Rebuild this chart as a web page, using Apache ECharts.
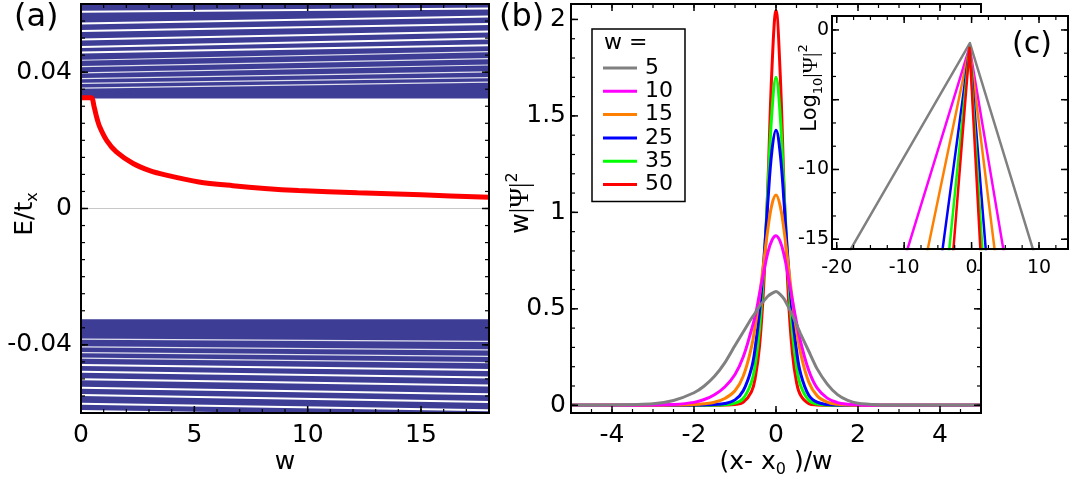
<!DOCTYPE html>
<html>
<head>
<meta charset="utf-8">
<title>edge state</title>
<script src="https://cdn.jsdelivr.net/npm/echarts@6.0.0/dist/echarts.min.js"></script>
<style>
  html, body { margin: 0; padding: 0; background: #fff; }
  #chart { width: 1071px; height: 478px; }
</style>
</head>
<body>
<div id="chart"></div>
<script>
// ---------- panel (a): E/t_x against w ----------
var edgeW = [0, 0.45, 0.58, 0.69, 0.83, 1.13, 1.56, 2.3, 3.0, 3.76, 5.2, 6.7, 8.1, 9.6, 12.2, 15, 18];
var edgeE = [0.0325, 0.0325, 0.0298, 0.0268, 0.0239, 0.0200, 0.0166, 0.0132, 0.0112, 0.0098, 0.0078, 0.0067, 0.0059, 0.0053, 0.0046, 0.0040, 0.0033];
var bandTop = [0.0323, 0.06];
var bandBottom = [-0.06, -0.0325];
// white gaps between the bulk levels, value at w=0 and at w=18
var gapUpLeft = [0.0577, 0.0543, 0.0521, 0.0496, 0.0474, 0.0458, 0.0435, 0.0416, 0.0398, 0.0381, 0.0367, 0.0353];
var gapUpRight = [0.0587, 0.0563, 0.0541, 0.0519, 0.0499, 0.0479, 0.0460, 0.0440, 0.0421, 0.0401, 0.0384, 0.0371];
var gapLowLeft = [-0.0383, -0.0406, -0.0423, -0.0439, -0.0459, -0.0479, -0.0501, -0.0526, -0.0547, -0.0573, -0.0594];
var gapLowRight = [-0.0390, -0.0415, -0.0434, -0.0452, -0.0474, -0.0496, -0.0519, -0.0545, -0.0568, -0.0592, -0.0612];
var aXRange = [0, 18], aYRange = [-0.06, 0.06];
var aXLabels = [0, 5, 10, 15];
var aYLabels = [-0.04, 0, 0.04];

// ---------- panel (b): w|Psi|^2 against (x-x0)/w ----------
var widths = ['5', '10', '15', '25', '35', '50'];
var uGrid = [-5, -4, -3, -2.5, -2, -1.75, -1.5, -1.25, -1, -0.8, -0.6, -0.5, -0.4, -0.3, -0.2, -0.1, 0,
             0.1, 0.2, 0.3, 0.4, 0.5, 0.6, 0.8, 1, 1.25, 1.5, 1.75, 2, 2.5, 3, 4, 5];
var prob5  = [0, 0.001, 0.008, 0.025, 0.065, 0.10, 0.15, 0.22, 0.31, 0.38, 0.45, 0.48, 0.515, 0.54, 0.565, 0.58, 0.59,
              0.575, 0.55, 0.51, 0.465, 0.42, 0.37, 0.28, 0.19, 0.11, 0.055, 0.025, 0.01, 0.002, 0, 0, 0];
var prob10 = [0, 0, 0.001, 0.004, 0.015, 0.03, 0.055, 0.095, 0.16, 0.25, 0.39, 0.47, 0.58, 0.69, 0.79, 0.855, 0.879,
              0.85, 0.775, 0.665, 0.545, 0.43, 0.33, 0.18, 0.09, 0.037, 0.014, 0.005, 0.002, 0, 0, 0, 0];
var prob15 = [0, 0, 0, 0.001, 0.004, 0.008, 0.016, 0.035, 0.075, 0.15, 0.30, 0.42, 0.57, 0.74, 0.91, 1.04, 1.09,
              1.035, 0.90, 0.725, 0.545, 0.39, 0.27, 0.12, 0.05, 0.016, 0.005, 0.001, 0, 0, 0, 0, 0];
var prob25 = [0, 0, 0, 0, 0.001, 0.002, 0.004, 0.009, 0.028, 0.075, 0.19, 0.31, 0.49, 0.745, 1.05, 1.318, 1.425,
              1.31, 1.04, 0.73, 0.47, 0.285, 0.165, 0.052, 0.016, 0.004, 0.001, 0, 0, 0, 0, 0, 0];
var prob35 = [0, 0, 0, 0, 0, 0, 0.001, 0.003, 0.011, 0.035, 0.12, 0.22, 0.40, 0.70, 1.11, 1.52, 1.70,
              1.51, 1.095, 0.68, 0.38, 0.20, 0.103, 0.026, 0.006, 0.001, 0, 0, 0, 0, 0, 0, 0];
var prob50 = [0, 0, 0, 0, 0, 0, 0, 0.001, 0.004, 0.016, 0.07, 0.15, 0.31, 0.62, 1.13, 1.74, 2.046,
              1.73, 1.10, 0.57, 0.27, 0.12, 0.052, 0.009, 0.002, 0, 0, 0, 0, 0, 0, 0, 0];
var bXRange = [-5, 5], bYRange = [-0.04, 2.08];
var bXLabels = [-4, -2, 0, 2, 4];
var bYLabels = [0, 0.5, 1, 1.5, 2];

// ---------- panel (c): Log10|Psi|^2, [x, y] points ----------
var log5  = [[-18.86, -16.5], [-0.25, -0.94], [9.60, -16.5]];
var log10 = [[-10.01, -16.5], [-0.3, -1.23], [4.98, -16.5]];
var log15 = [[-6.84, -16.5], [-0.3, -1.25], [3.61, -16.5]];
var log25 = [[-4.52, -16.5], [-0.3, -1.27], [2.23, -16.5]];
var log35 = [[-3.47, -16.5], [-0.3, -1.28], [1.71, -16.5]];
var log50 = [[-2.83, -16.5], [-0.3, -1.30], [1.39, -16.5]];
var cXRange = [-20.7, 14.3], cYRange = [-15.7, 1.0];
var cXLabels = [-20, -10, 0, 10];
var cYLabels = [-15, -10, 0];

var probs = [prob5, prob10, prob15, prob25, prob35, prob50];
var logs = [log5, log10, log15, log25, log35, log50];
var colors = ['#808080', '#ff00ff', '#ff8000', '#0000ff', '#00ff00', '#ff0000'];
var BLUE = '#3d3d96';
var FONT = 'DejaVu Sans';

function steps(from, to, step) {
  var out = [];
  for (var v = from; v <= to + 1e-9; v += step) out.push(Math.round(v * 10000) / 10000);
  return out;
}

// axes only carry the scale and the tick labels; the frame is drawn below
function axis(grid, range, labels, fs, margin, z) {
  return {
    type: 'value', gridIndex: grid, min: range[0], max: range[1], z: z || 0,
    axisLine: { show: false, onZero: false },
    axisTick: { show: false },
    minorTick: { show: false },
    splitLine: { show: false },
    axisLabel: { show: true, customValues: labels, fontFamily: FONT, fontSize: fs, color: '#000', margin: margin }
  };
}

// box with inward ticks on all four sides, placed through the axes' own scales
function frame(idx, xr, yr, t, z) {
  return {
    type: 'custom', xAxisIndex: idx, yAxisIndex: idx, silent: true, clip: false, z: z,
    data: [[xr[0], yr[0]]],
    renderItem: function (params, api) {
      var lo = api.coord([xr[0], yr[0]]), hi = api.coord([xr[1], yr[1]]);
      var L = lo[0], R = hi[0], B = lo[1], T = hi[1];
      var kids = [{ type: 'rect', shape: { x: L, y: T, width: R - L, height: B - T },
                    style: { fill: 'none', stroke: '#000', lineWidth: 2 } }];
      function seg(x1, y1, x2, y2, w) {
        kids.push({ type: 'line', shape: { x1: x1, y1: y1, x2: x2, y2: y2 }, style: { stroke: '#000', lineWidth: w } });
      }
      function xt(list, len, w) {
        list.forEach(function (v) { var X = api.coord([v, yr[0]])[0]; seg(X, B, X, B - len, w); seg(X, T, X, T + len, w); });
      }
      function yt(list, len, w) {
        list.forEach(function (v) { var Y = api.coord([xr[0], v])[1]; seg(L, Y, L + len, Y, w); seg(R, Y, R - len, Y, w); });
      }
      xt(t.xMinor, 4, 1.2); xt(t.xMajor, 7, 1.5);
      yt(t.yMinor, 4, 1.2); yt(t.yMajor, 7, 1.5);
      return { type: 'group', children: kids };
    }
  };
}

var series = [];
// zero line, carries the two bulk bands
series.push({
  type: 'line', xAxisIndex: 0, yAxisIndex: 0, silent: true, symbol: 'none', z: 1,
  data: [[aXRange[0], 0], [aXRange[1], 0]],
  lineStyle: { color: '#c8c8c8', width: 1 },
  markArea: {
    silent: true, itemStyle: { color: BLUE },
    data: [[{ yAxis: bandTop[0] }, { yAxis: bandTop[1] }], [{ yAxis: bandBottom[0] }, { yAxis: bandBottom[1] }]]
  }
});
function gapSeries(left, right) {
  left.forEach(function (v, i) {
    var thick = Math.abs(v) > 0.045;
    series.push({
      type: 'line', xAxisIndex: 0, yAxisIndex: 0, silent: true, symbol: 'none', z: 3,
      data: [[aXRange[0], v], [aXRange[1], right[i]]],
      lineStyle: { color: '#fff', width: thick ? 2 : 1.2, opacity: thick ? 1 : 0.85 }
    });
  });
}
gapSeries(gapUpLeft, gapUpRight);
gapSeries(gapLowLeft, gapLowRight);
series.push({
  type: 'line', xAxisIndex: 0, yAxisIndex: 0, silent: true, symbol: 'none', z: 5,
  smooth: 0.3,
  data: edgeW.map(function (w, i) { return [w, edgeE[i]]; }),
  lineStyle: { color: '#ff0000', width: 5 }
});

// small w drawn last so its line sits on top at the baseline
widths.forEach(function (name, k) {
  series.push({
    name: name, type: 'line', xAxisIndex: 1, yAxisIndex: 1, symbol: 'none', z: 12 - k,
    smooth: k === 0 ? 0.2 : 0.4,
    color: colors[k],
    data: uGrid.map(function (u, i) { return [u, probs[k][i]]; }),
    lineStyle: { color: colors[k], width: 3 }
  });
  series.push({
    name: name, type: 'line', xAxisIndex: 2, yAxisIndex: 2, symbol: 'none', z: 120 + k,
    color: colors[k],
    data: logs[k],
    lineStyle: { color: colors[k], width: 2.5, join: 'round' }
  });
});

series.push(frame(0, aXRange, aYRange, {
  xMajor: aXLabels, xMinor: steps(0, 18, 1), yMajor: aYLabels, yMinor: steps(-0.06, 0.06, 0.005) }, 20));
series.push(frame(1, bXRange, bYRange, {
  xMajor: bXLabels, xMinor: steps(-5, 5, 0.5), yMajor: bYLabels, yMinor: steps(0, 2, 0.1) }, 20));
series.push(frame(2, cXRange, cYRange, {
  xMajor: cXLabels, xMinor: steps(-20, 12.5, 2.5), yMajor: [-15, -10, -5, 0], yMinor: steps(-15, 0, 5 / 3) }, 128));

function label(x, y, text, size, extra) {
  var el = { type: 'text', x: x, y: y, z: 130,
    style: { text: text, fontFamily: FONT, fontSize: size, fill: '#000', align: 'left', verticalAlign: 'middle' } };
  if (extra) {
    for (var k in extra) {
      if (k === 'style') { for (var s in extra.style) el.style[s] = extra.style[s]; }
      else el[k] = extra[k];
    }
  }
  return el;
}
var sub = { fontFamily: FONT, fontSize: 16, lineHeight: 14, verticalAlign: 'bottom' };
var sup = { fontFamily: FONT, fontSize: 16, lineHeight: 14, verticalAlign: 'top' };
var main = { fontFamily: FONT, fontSize: 25, lineHeight: 32, verticalAlign: 'middle' };
var psi = { fontFamily: 'Liberation Serif', fontSize: 27, lineHeight: 32, verticalAlign: 'middle' };

var graphics = [
  // white backing of the inset, hides the right frame of (b)
  { type: 'rect', z: 100, shape: { x: 795, y: 13, width: 276, height: 239 }, style: { fill: '#fff' } },
  label(14, 18, '(a)', 32),
  label(499, 18, '(b)', 32),
  label(1012, 45, '(c)', 30),
  label(604, 43, 'w =', 22),
  label(285, 462, 'w', 25, { style: { align: 'center' } }),
  label(25, 214, '{m|E/t}{s|x}', 25, { rotation: Math.PI / 2, style: { align: 'center', rich: { m: main, s: sub } } }),
  label(521, 203, '{m|w}{g||Ψ|}{p|2}', 25, { rotation: Math.PI / 2, style: { align: 'center', rich: { m: main, g: psi, p: sup } } }),
  label(776, 462, '{m|(x- x}{s|0}{m| )/w}', 23, { style: { align: 'center', rich: { m: main, s: sub } } }),
  label(811, 88, '{m|Log}{s|10}{g||Ψ|}{p|2}', 21, { rotation: Math.PI / 2, style: { align: 'center', rich: {
    m: { fontFamily: FONT, fontSize: 21, lineHeight: 28, verticalAlign: 'middle' },
    s: { fontFamily: FONT, fontSize: 13, lineHeight: 12, verticalAlign: 'bottom' },
    g: { fontFamily: 'Liberation Serif', fontSize: 22, lineHeight: 28, verticalAlign: 'middle' },
    p: { fontFamily: FONT, fontSize: 13, lineHeight: 12, verticalAlign: 'top' } } } })
];

var chart = echarts.init(document.getElementById('chart'), null, { renderer: 'canvas' });
chart.setOption({
  animation: false,
  grid: [
    { left: 81, top: 4, width: 408, height: 409 },
    { left: 571, top: 4, width: 410, height: 409 },
    { left: 832, top: 16, width: 236, height: 233 }
  ],
  xAxis: [
    axis(0, aXRange, aXLabels, 25, 10),
    axis(1, bXRange, bXLabels, 25, 10),
    axis(2, cXRange, cXLabels, 19, 10, 110)
  ],
  yAxis: [
    axis(0, aYRange, aYLabels, 25, 9),
    axis(1, bYRange, bYLabels, 25, 5),
    axis(2, cYRange, cYLabels, 19, 3, 110)
  ],
  legend: {
    data: widths, selectedMode: false, orient: 'vertical', left: 592, top: 29,
    icon: 'rect', itemWidth: 34, itemHeight: 3, itemGap: 1.3,
    padding: [28, 12, 6, 11], borderColor: '#000', borderWidth: 1.5, backgroundColor: '#fff',
    textStyle: { fontFamily: FONT, fontSize: 22, lineHeight: 22, color: '#000', padding: [0, 0, 0, 3] }
  },
  graphic: { elements: graphics },
  series: series
});
</script>
</body>
</html>
